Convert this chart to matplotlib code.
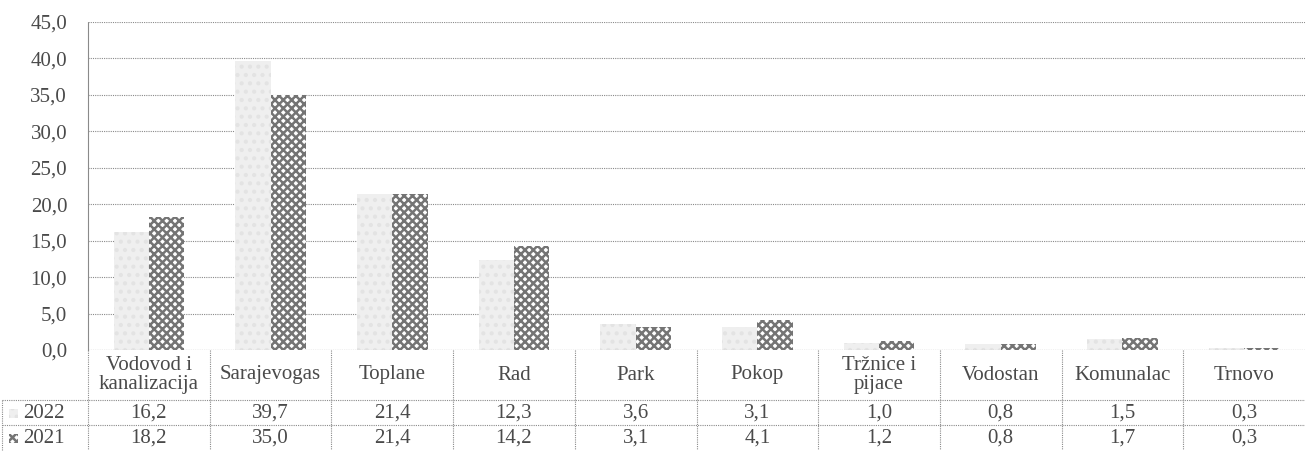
"""
Grouped bar chart (2022 vs 2021) with Excel-style data table underneath.
"""

import numpy as np
import matplotlib.pyplot as plt
from matplotlib.patches import Rectangle

categories = ["Vodovod i\nkanalizacija", "Sarajevogas", "Toplane", "Rad", "Park",
              "Pokop", "Tržnice i\npijace", "Vodostan", "Komunalac", "Trnovo"]
vals_2022 = [16.2, 39.7, 21.4, 12.3, 3.6, 3.1, 1.0, 0.8, 1.5, 0.3]
vals_2021 = [18.2, 35.0, 21.4, 14.2, 3.1, 4.1, 1.2, 0.8, 1.7, 0.3]
series_labels = ["2022", "2021"]
yticks = np.arange(0, 50, 5)

TXT = "#4a4a4a"
GRID = "#8a8a8a"
plt.rcParams["font.family"] = "serif"
plt.rcParams["font.serif"] = ["Liberation Serif", "Times New Roman", "DejaVu Serif"]
plt.rcParams["hatch.linewidth"] = 1.8

W, H = 1310, 468
fig = plt.figure(figsize=(W / 100, H / 100), dpi=100)

px_l, px_r, px_t, px_b = 88, 1305, 22, 350
ax = fig.add_axes([px_l / W, 1 - px_b / H, (px_r - px_l) / W, (px_b - px_t) / H])

x = np.arange(len(categories))
bw = 0.29
style_2022 = dict(facecolor="#efefef", edgecolor="#e3e3e3", hatch="..", linewidth=0)
style_2021 = dict(facecolor="#ffffff", edgecolor="#747474", hatch="xxxx", linewidth=0)
ax.bar(x - bw / 2, vals_2022, bw, **style_2022, zorder=2)
ax.bar(x + bw / 2, vals_2021, bw, **style_2021, zorder=2)

ax.set_xlim(-0.5, len(categories) - 0.5)
ax.set_ylim(0, 45)
ax.set_yticks(yticks)
ax.set_yticklabels([f"{v:.1f}".replace(".", ",") for v in yticks], fontsize=15, color=TXT)
ax.set_xticks([])
ax.tick_params(axis="y", length=0, pad=15)
ax.grid(axis="y", linestyle=(0, (1, 1)), color=GRID, linewidth=0.8, zorder=0)
for s in ["top", "right", "bottom"]:
    ax.spines[s].set_visible(False)
ax.spines["left"].set_linestyle((0, (1, 1)))
ax.spines["left"].set_color(GRID)
ax.spines["left"].set_linewidth(0.8)
ax.axhline(0, color=GRID, linestyle=(0, (1, 1)), linewidth=0.8)

# data table below the plot
tb_top, tb_bot = 350, 452
tax = fig.add_axes([0, 1 - tb_bot / H, px_r / W, (tb_bot - tb_top) / H])
unit = (px_r - px_l) / len(categories)
tax.set_xlim(-0.5 - px_l / unit, len(categories) - 0.5)
tax.set_ylim(tb_bot - tb_top, 0)
tax.axis("off")

hdr_h, row_h = 50, 25
line_kw = dict(color=GRID, linestyle=(0, (1, 1)), linewidth=0.8)
left_edge = -0.5 - px_l / unit + 0.02
for b in np.arange(-0.5, len(categories) - 0.5):
    tax.plot([b, b], [0, hdr_h + 2 * row_h], **line_kw)
tax.plot([left_edge, left_edge], [hdr_h, hdr_h + 2 * row_h], **line_kw)
for yy in [hdr_h, hdr_h + row_h]:
    tax.plot([left_edge, len(categories) - 0.5], [yy, yy], **line_kw)

for i, c in enumerate(categories):
    tax.text(i, hdr_h / 2, c, ha="center", va="center", fontsize=15, color=TXT,
             linespacing=1.0)

for r, (lab, vals, st) in enumerate([(series_labels[0], vals_2022, style_2022),
                                     (series_labels[1], vals_2021, style_2021)]):
    yc = hdr_h + row_h * (r + 0.5)
    for i, v in enumerate(vals):
        tax.text(i, yc + 1, f"{v:.1f}".replace(".", ","), ha="center", va="center",
                 fontsize=15, color=TXT)
    tax.text(left_edge + 0.17, yc + 1, lab, ha="left", va="center", fontsize=15, color=TXT)
    key = Rectangle((left_edge + 0.05, yc - 4), 0.08, 9, **st, clip_on=False)
    tax.add_patch(key)

fig.savefig("out.png", dpi=100)
